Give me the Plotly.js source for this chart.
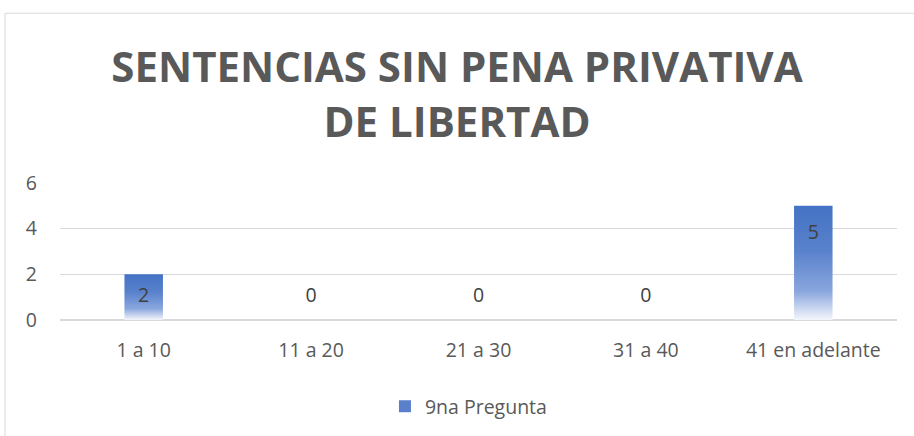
<!DOCTYPE html>
<html><head><meta charset="utf-8">
<script src="https://cdn.plot.ly/plotly-3.0.1.min.js"></script>
<style>html,body{margin:0;padding:0;background:#fff}#chart{width:914px;height:436px}</style>
</head><body><div id="chart"></div>
<script>
const categories = ["1 a 10", "11 a 20", "21 a 30", "31 a 40", "41 en adelante"];
const values = [2, 0, 0, 0, 5];
const seriesName = "9na Pregunta";
const yTicks = [0, 2, 4, 6];

const W = 914, H = 436;
const L = 60, R = 17, T = 183, B = 115;
const barHalf = 0.115;
const FONT = 'Open Sans, Noto Sans, sans-serif';
const gradScale = [[0, '#f4f6fc'], [0.08, '#d3ddf2'], [0.25, '#8aa6de'], [0.6, '#5a82cc'], [1, '#4472c4']];

const traces = [];
values.forEach((v, i) => {
  if (v <= 0) return;
  traces.push({
    type: 'scatter', mode: 'lines',
    x: [i - barHalf, i + barHalf, i + barHalf, i - barHalf, i - barHalf],
    y: [0, 0, v, v, 0],
    fill: 'toself',
    fillgradient: {type: 'vertical', colorscale: gradScale},
    line: {width: 0, color: 'rgba(0,0,0,0)'},
    showlegend: false, hoverinfo: 'skip'
  });
});
// legend entry
traces.push({
  type: 'bar', x: [null], y: [null], name: seriesName,
  marker: {color: '#5b80cb'}, showlegend: true
});
// data labels
traces.push({
  type: 'scatter', mode: 'text',
  x: categories.map((c, i) => i),
  y: values.map(v => Math.max(v - 1.22, 0.98)),
  text: values.map(String),
  textfont: {family: FONT, size: 19.5, color: '#404040'},
  showlegend: false, hoverinfo: 'skip'
});

const plotW = W - L - R, plotH = H - T - B;
const layout = {
  width: W, height: H,
  margin: {l: L, r: R, t: T, b: B},
  paper_bgcolor: '#fff', plot_bgcolor: '#fff',
  title: {
    text: 'SENTENCIAS SIN PENA PRIVATIVA<br>DE LIBERTAD',
    font: {family: FONT, size: 42, color: '#595959', weight: 'bold'},
    x: 0.5, xanchor: 'center', xref: 'container', yref: 'container', y: 0.812, yanchor: 'middle'
  },
  xaxis: {
    range: [-0.5, 4.5], tickvals: categories.map((c, i) => i), ticktext: categories,
    showgrid: false, zeroline: false, showline: false, ticks: '',
    tickfont: {family: FONT, size: 19.5, color: '#595959'},
    ticklabelstandoff: 16, fixedrange: true
  },
  yaxis: {
    range: [0, 6], tickvals: yTicks, showgrid: true, gridcolor: '#d9d9d9', gridwidth: 1,
    zeroline: true, zerolinecolor: '#d9d9d9', zerolinewidth: 1.5, showline: false, ticks: '',
    tickfont: {family: FONT, size: 19.5, color: '#595959'},
    ticklabelstandoff: 22, fixedrange: true
  },
  showlegend: true,
  legend: {
    orientation: 'h', x: 0.488, xanchor: 'center', y: -0.62, yanchor: 'middle',
    font: {family: FONT, size: 19.5, color: '#595959'},
    itemwidth: 30
  },
  shapes: [{
    type: 'rect', xref: 'paper', yref: 'paper',
    x0: (5 - L) / plotW, x1: (W + 10 - L) / plotW,
    y0: -(H + 10 - (H - B)) / plotH, y1: (H - B - 12) / plotH,
    line: {color: '#d9d9d9', width: 1}, fillcolor: 'rgba(0,0,0,0)', layer: 'below'
  }]
};
Plotly.newPlot('chart', traces, layout, {staticPlot: true, displayModeBar: false});
</script></body></html>
